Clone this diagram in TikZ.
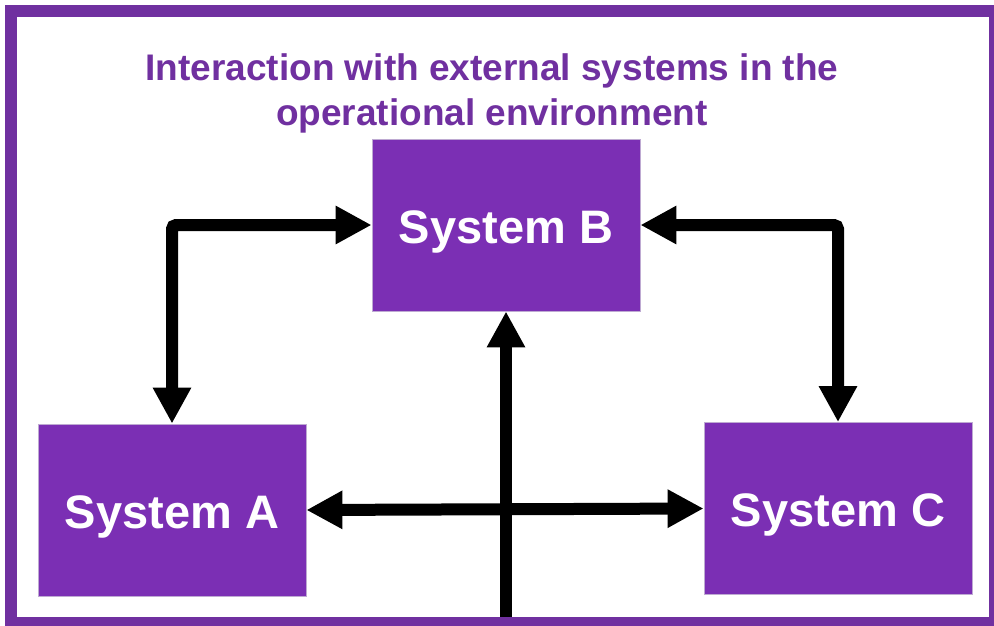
\documentclass[tikz,border=0pt]{standalone}
\usepackage{fontspec}
\setmainfont{Liberation Sans}
\usetikzlibrary{arrows.meta}
\definecolor{framepurple}{RGB}{112,48,160}
\definecolor{boxpurple}{RGB}{123,47,180}
\definecolor{boxedge}{RGB}{190,170,210}
\tikzset{
  sysbox/.style={draw=boxedge, line width=0.8pt, fill=boxpurple,
    minimum width=268pt, minimum height=172pt, inner sep=0pt,
    text height=36pt, text depth=0pt,
    text=white, font=\bfseries\fontsize{47}{56}\selectfont},
  link/.style={line width=12pt, draw=black,
    {Triangle[length=36pt,width=36pt]}-{Triangle[length=36pt,width=36pt]}},
  feed/.style={line width=12pt, draw=black,
    -{Triangle[length=36pt,width=36pt]}},
  titletext/.style={text=framepurple, align=center,
    font=\bfseries\fontsize{37}{45}\selectfont}
}
\begin{document}
\begin{tikzpicture}[x=1pt, y=-1pt]
  \useasboundingbox (0,0) rectangle (994,625);
  \clip (0,0) rectangle (994,625);
  \fill[white] (0,0) rectangle (994,625);

  % title
  \node[titletext] (title) at (492,93.5)
    {Interaction with external systems in the\\operational environment};

  % the three systems
  \node[sysbox] (B) at (506,225) {System B};
  \node[sysbox] (A) at (172,510) {System A};
  \node[sysbox] (C) at (838,508.5) {System C};

  % connectors
  \coordinate (feedin) at (506,617);
  \draw[link, rounded corners=4pt] (B.west) -| (A.north);
  \draw[link, rounded corners=4pt] (B.east) -| (C.north);
  \draw[link] (A.east) -- (C.west);
  \draw[feed] (feedin) -- (B.south);

  % outer frame
  \draw[framepurple, line width=12pt] (11,11) rectangle (995,623);
\end{tikzpicture}
\end{document}
